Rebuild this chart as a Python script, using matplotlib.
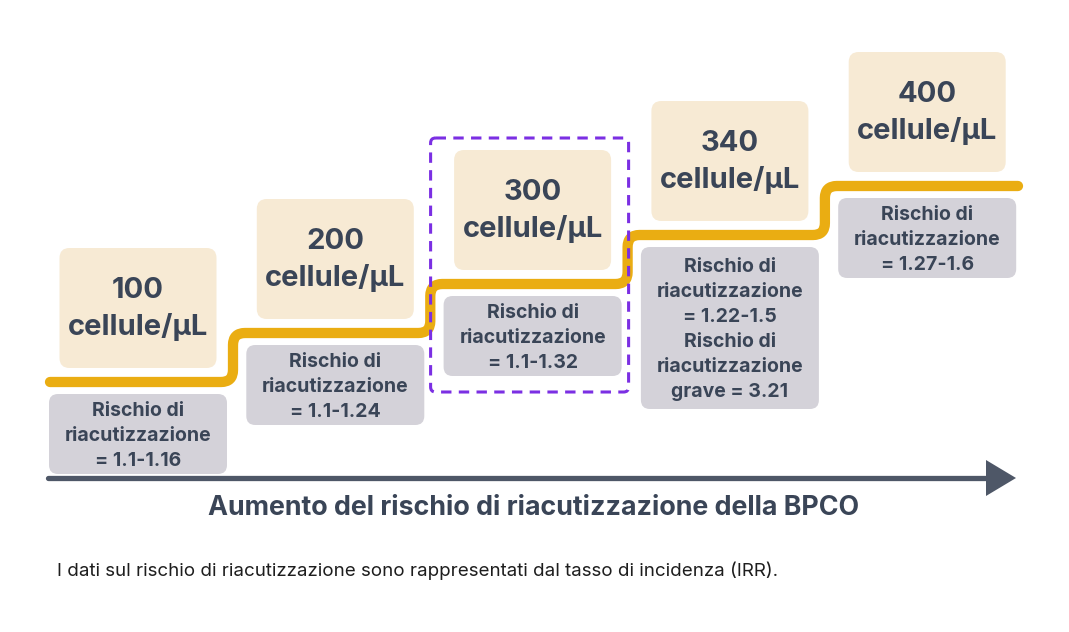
import matplotlib.pyplot as plt
from matplotlib.patches import FancyBboxPatch, Polygon, PathPatch
from matplotlib.path import Path

plt.rcParams['font.family'] = ['Inter', 'DejaVu Sans']

# Data
cell_counts = [100, 200, 300, 340, 400]
risk_ranges = ['1.1-1.16', '1.1-1.24', '1.1-1.32', '1.22-1.5', '1.27-1.6']
severe_risk = [None, None, None, '3.21', None]
highlight = 2
axis_title = 'Aumento del rischio di riacutizzazione della BPCO'
footnote = 'I dati sul rischio di riacutizzazione sono rappresentati dal tasso di incidenza (IRR).'

TEXT = '#3a4557'
BEIGE = '#f7ead4'
GREY = '#d4d2d9'
GOLD = '#eaad12'
PURPLE = '#7b2fe3'
ARROW = '#4e5767'

fig = plt.figure(figsize=(10.69, 6.32), dpi=100)
ax = fig.add_axes([0, 0, 1, 1])
ax.set_xlim(0, 1069)
ax.set_ylim(632, 0)
ax.axis('off')

# layout (pixels)
x0, dx = 138, 197.3
lvl0, dlvl = 382, 49
box_w, box_h = 157, 120
grey_w = 178

n = len(cell_counts)
centers = [x0 + i * dx for i in range(n)]
levels = [lvl0 - i * dlvl for i in range(n)]

# staircase line with rounded corners
r = 12
verts = [(50, levels[0])]
codes = [Path.MOVETO]
for i in range(n - 1):
    xt = centers[i] + 95
    y1, y2 = levels[i], levels[i + 1]
    verts += [(xt - r, y1), (xt, y1), (xt, y1 - r), (xt, y2 + r), (xt, y2), (xt + r, y2)]
    codes += [Path.LINETO, Path.CURVE3, Path.CURVE3, Path.LINETO, Path.CURVE3, Path.CURVE3]
verts.append((1018, levels[-1]))
codes.append(Path.LINETO)
ax.add_patch(PathPatch(Path(verts, codes), fill=False, edgecolor=GOLD, lw=7.4,
                       capstyle='round', joinstyle='round', zorder=3))

for i in range(n):
    cx, lv = centers[i], levels[i]
    # beige count box
    bb = lv - 14
    ax.add_patch(FancyBboxPatch((cx - box_w / 2, bb - box_h), box_w, box_h,
                                boxstyle='round,pad=0,rounding_size=10',
                                fc=BEIGE, ec='none', zorder=2))
    ax.text(cx, bb - box_h / 2 + 1, f'{cell_counts[i]}\ncellule/µL', ha='center', va='center',
            fontsize=21, fontweight='bold', color=TEXT, linespacing=1.4, zorder=4)

    # grey risk box
    lines = ['Rischio di', 'riacutizzazione', f'= {risk_ranges[i]}']
    if severe_risk[i]:
        lines += ['Rischio di', 'riacutizzazione', f'grave = {severe_risk[i]}']
    gh = 80 if len(lines) == 3 else 162
    gt = lv + 12
    off = 17 if len(lines) == 3 else 20
    ax.add_patch(FancyBboxPatch((cx - grey_w / 2, gt), grey_w, gh,
                                boxstyle='round,pad=0,rounding_size=9',
                                fc=GREY, ec='none', zorder=2))
    for k, line in enumerate(lines):
        ax.text(cx, gt + off + 25 * k, line, ha='center', va='center',
                fontsize=14, fontweight='bold', color=TEXT, zorder=4)

# highlight dashed frame
hc = centers[highlight]
ax.add_patch(FancyBboxPatch((hc - 102, 138), 198, 254,
                            boxstyle='round,pad=0,rounding_size=5',
                            fill=False, ec=PURPLE, lw=2.2,
                            linestyle=(0, (3.4, 2.4)), zorder=5))

# axis arrow
ax.plot([48, 990], [478, 478], color=ARROW, lw=3.8, solid_capstyle='round', zorder=1)
ax.add_patch(Polygon([(986, 460), (1016, 478), (986, 496)], closed=True, fc=ARROW, ec='none'))

ax.text(534, 508, axis_title, ha='center', va='center', fontsize=19.3,
        fontweight='bold', color=TEXT)
ax.text(57, 571, footnote, ha='left', va='center', fontsize=13.5, color='#1e1e1e')

fig.savefig('out.png', dpi=100)
